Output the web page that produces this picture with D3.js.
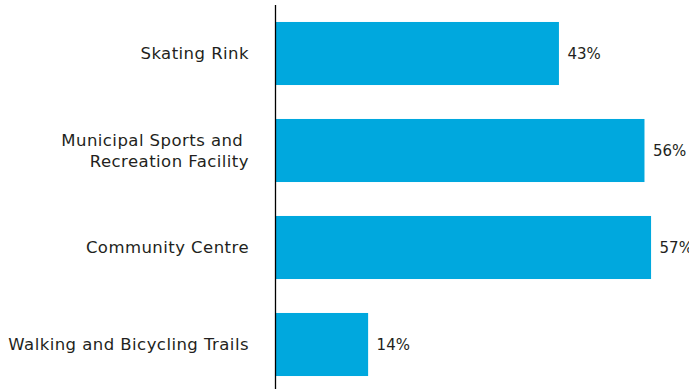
<!DOCTYPE html>
<html>
<head>
<meta charset="utf-8">
<script src="https://cdn.jsdelivr.net/npm/d3@7"></script>
<style>
  html, body { margin: 0; padding: 0; background: #fff; }
  svg { display: block; }
  text { font-family: "DejaVu Sans", sans-serif; fill: #231f20; }
</style>
</head>
<body>
<svg id="chart" width="689" height="389"></svg>
<script>
// Share of respondents using each facility
const categories = [
  ["Skating Rink"],
  ["Municipal Sports and ", "Recreation Facility"],
  ["Community Centre"],
  ["Walking and Bicycling Trails"]
];
const values = [43, 56, 57, 14];
const valueLabels = ["43%", "56%", "57%", "14%"];

const svg = d3.select("#chart");
const keys = categories.map(c => c.join(""));

const y = d3.scaleBand()
  .domain(keys)
  .range([5, 393])
  .paddingInner(0.35)
  .paddingOuter(0.175);

const x = d3.scaleLinear()
  .domain([0, 60])
  .range([276, 276 + 60 * 6.58]);

// bars
svg.append("g").selectAll("rect")
  .data(values)
  .join("rect")
  .attr("x", x(0))
  .attr("y", (d, i) => y(keys[i]))
  .attr("width", d => x(d) - x(0))
  .attr("height", y.bandwidth())
  .attr("fill", "#00a8de");

// value labels
svg.append("g").selectAll("text")
  .data(values)
  .join("text")
  .attr("x", d => x(d) + 8.5)
  .attr("y", (d, i) => y(keys[i]) + y.bandwidth() / 2)
  .attr("dy", "0.36em")
  .attr("font-size", 15)
  .text((d, i) => valueLabels[i]);

// category labels, right-aligned, multi-line where needed
const lineH = 21;
const cat = svg.append("g").selectAll("text")
  .data(categories)
  .join("text")
  .attr("text-anchor", "end")
  .attr("font-size", 16.5)
  .attr("letter-spacing", 0.45)
  .attr("xml:space", "preserve")
  .style("white-space", "pre");
cat.each(function(lines, i) {
  const cy = y(keys[i]) + y.bandwidth() / 2;
  const top = cy - (lines.length - 1) * lineH / 2;
  d3.select(this).selectAll("tspan")
    .data(lines)
    .join("tspan")
    .attr("x", 249)
    .attr("y", (l, j) => top + j * lineH)
    .attr("dy", "0.36em")
    .text(l => l);
});

// vertical axis line
svg.append("line")
  .attr("x1", 275.5).attr("x2", 275.5)
  .attr("y1", 5).attr("y2", 389)
  .attr("stroke", "#000")
  .attr("stroke-width", 1.3);
</script>
</body>
</html>
